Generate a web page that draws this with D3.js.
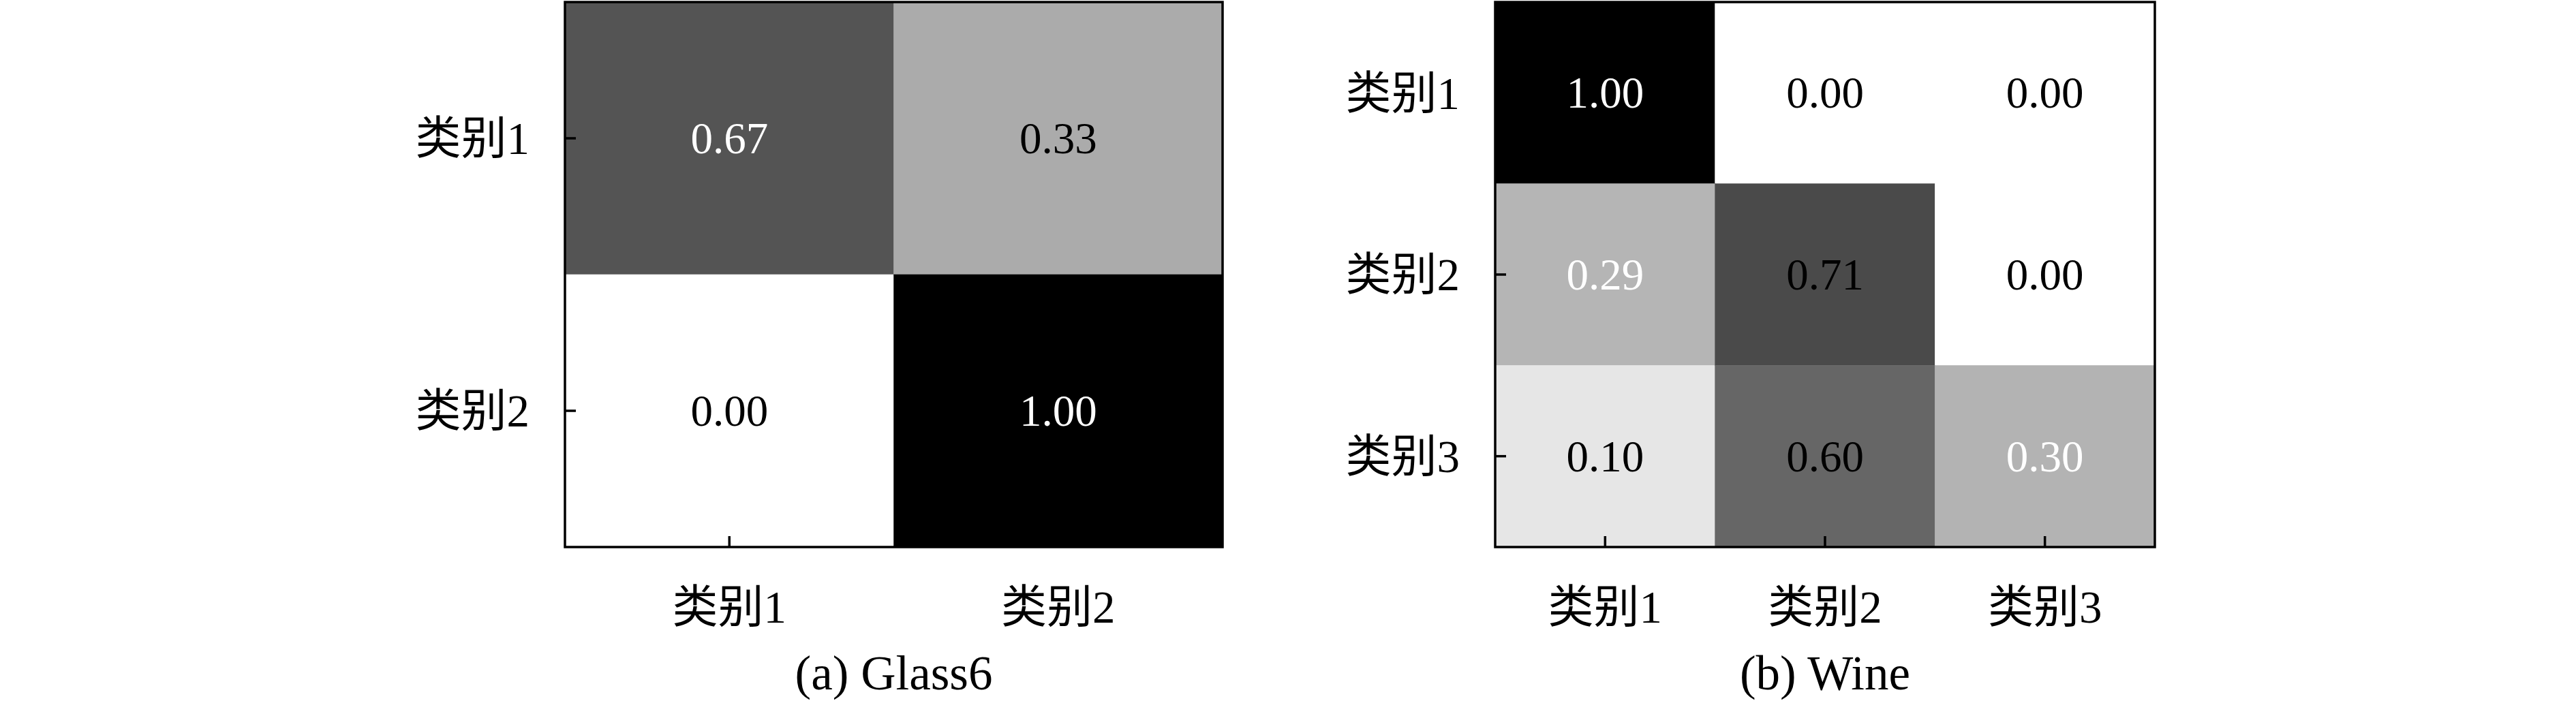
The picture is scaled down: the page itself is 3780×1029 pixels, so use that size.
<!DOCTYPE html>
<html>
<head>
<meta charset="utf-8">
<script src="https://cdn.jsdelivr.net/npm/d3@7/dist/d3.min.js"></script>
<style>
  html, body { margin: 0; padding: 0; background: #fff; }
  svg { display: block; }
</style>
</head>
<body>
<svg id="chart" width="3780" height="1029"></svg>
<script>
// ---- data ----
const glassCategories = ["类别1", "类别2"];
const glassValues = [
  [0.67, 0.33],
  [0.00, 1.00]
];
// whether the value label is drawn in white (as in the source figure)
const glassLightLabel = [
  [true, false],
  [false, true]
];
const glassTitle = "(a) Glass6";

const wineCategories = ["类别1", "类别2", "类别3"];
const wineValues = [
  [1.00, 0.00, 0.00],
  [0.29, 0.71, 0.00],
  [0.10, 0.60, 0.30]
];
const wineLightLabel = [
  [true, false, false],
  [true, false, false],
  [false, false, true]
];
const wineTitle = "(b) Wine";

// ---- drawing ----
const svg = d3.select("#chart");
const serif = "'Liberation Serif', 'Times New Roman', serif";
const labelFont = "'Liberation Serif', 'Noto Sans CJK SC', serif";
const color = d3.scaleLinear().domain([0, 1]).range(["#ffffff", "#000000"]);

function drawPanel(cfg) {
  const { x0, x1, y0, y1, cats, values, light, title } = cfg;
  const g = svg.append("g");
  const x = d3.scaleBand().domain(cats).range([x0, x1]);
  const y = d3.scaleBand().domain(cats).range([y0, y1]);

  const cells = [];
  values.forEach((row, i) => row.forEach((v, j) => cells.push({ i, j, v, light: light[i][j] })));

  g.selectAll("rect.cell").data(cells).join("rect")
    .attr("class", "cell")
    .attr("x", d => x(cats[d.j]))
    .attr("y", d => y(cats[d.i]))
    .attr("width", x.bandwidth())
    .attr("height", y.bandwidth())
    .attr("fill", d => color(d.v))
    .attr("stroke", d => color(d.v))
    .attr("stroke-width", 0.5);

  g.selectAll("text.val").data(cells).join("text")
    .attr("class", "val")
    .attr("x", d => x(cats[d.j]) + x.bandwidth() / 2)
    .attr("y", d => y(cats[d.i]) + y.bandwidth() / 2)
    .attr("text-anchor", "middle")
    .attr("dominant-baseline", "central")
    .attr("font-family", serif)
    .attr("font-size", 65)
    .attr("fill", d => d.light ? "#ffffff" : "#000000")
    .text(d => d.v.toFixed(2));

  // axes with inward ticks
  const ax = g.append("g")
    .attr("transform", `translate(${x0},0)`)
    .call(d3.axisLeft(y).tickSize(-16).tickPadding(52));
  const bx = g.append("g")
    .attr("transform", `translate(0,${y1})`)
    .call(d3.axisBottom(x).tickSize(-16).tickPadding(63));
  [ax, bx].forEach(a => {
    a.select(".domain").remove();
    a.selectAll(".tick line").attr("stroke", "#000").attr("stroke-width", 3.5);
    a.selectAll(".tick text")
      .attr("font-family", labelFont)
      .attr("font-size", 67)
      .attr("fill", "#000");
  });
  ax.selectAll(".tick text").attr("dy", "0.35em");

  // frame
  g.append("rect")
    .attr("x", x0).attr("y", y0)
    .attr("width", x1 - x0).attr("height", y1 - y0)
    .attr("fill", "none")
    .attr("stroke", "#000")
    .attr("stroke-width", 3.5);

  g.append("text")
    .attr("x", (x0 + x1) / 2)
    .attr("y", 1012)
    .attr("text-anchor", "middle")
    .attr("font-family", serif)
    .attr("font-size", 71)
    .attr("fill", "#000")
    .text(title);
}

drawPanel({ x0: 829, x1: 1794, y0: 3, y1: 803, cats: glassCategories, values: glassValues, light: glassLightLabel, title: glassTitle });
drawPanel({ x0: 2194, x1: 3162, y0: 3, y1: 803, cats: wineCategories, values: wineValues, light: wineLightLabel, title: wineTitle });
</script>
</body>
</html>
